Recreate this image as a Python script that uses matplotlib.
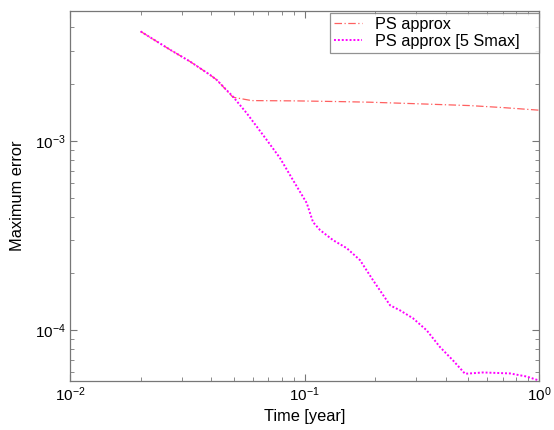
import matplotlib
matplotlib.use("Agg")
import matplotlib.pyplot as plt
from matplotlib.ticker import LogLocator, NullFormatter

plt.rcParams['font.family'] = ['Liberation Sans', 'DejaVu Sans']
plt.rcParams['mathtext.default'] = 'regular'

# Data
t_ps = [0.02, 0.0267, 0.0325, 0.0395, 0.0422, 0.0495, 0.0595, 0.0926, 0.1417,
        0.1903, 0.311, 0.508, 0.702, 1.0]
err_ps = [3.81e-3, 3.05e-3, 2.64e-3, 2.246e-3, 2.113e-3, 1.71e-3, 1.641e-3,
          1.635e-3, 1.621e-3, 1.609e-3, 1.577e-3, 1.544e-3, 1.507e-3, 1.46e-3]

t_5s = [0.02, 0.0267, 0.0325, 0.0395, 0.0422, 0.0495, 0.0567, 0.069, 0.0786,
        0.0893, 0.1022, 0.1087, 0.1165, 0.1323, 0.1514, 0.1725, 0.196, 0.2241,
        0.2316, 0.2554, 0.2902, 0.332, 0.3783, 0.4299, 0.4836, 0.577, 0.752,
        0.886, 1.0]
err_5s = [3.81e-3, 3.05e-3, 2.64e-3, 2.246e-3, 2.113e-3, 1.723e-3, 1.407e-3,
          1.016e-3, 8.15e-4, 6.23e-4, 4.71e-4, 3.735e-4, 3.39e-4, 3.0e-4,
          2.72e-4, 2.35e-4, 1.84e-4, 1.442e-4, 1.357e-4, 1.276e-4, 1.158e-4,
          1.0e-4, 8.156e-5, 6.93e-5, 5.895e-5, 5.99e-5, 5.92e-5, 5.70e-5,
          5.43e-5]

labels = ['PS approx', 'PS approx [5 Smax]']

fig = plt.figure(figsize=(5.54, 4.30), dpi=100)
ax = fig.add_axes([0.1264, 0.114, 0.973 - 0.1264, 0.975 - 0.114])

ax.loglog(t_ps, err_ps, color='#ff6060', lw=0.9, linestyle=(0, (6, 2, 1, 2)),
          label=labels[0])
ax.loglog(t_5s, err_5s, color='#ff00ff', lw=1.4, linestyle=(0, (1, 1)),
          label=labels[1])

ax.set_xlim(1e-2, 1)
ax.set_ylim(5.4e-5, 4.9e-3)

ax.set_xlabel('Time [year]', fontsize=11.8, labelpad=4)
ax.set_ylabel('Maximum error', fontsize=11.8, labelpad=7)

for s in ax.spines.values():
    s.set_color('#777777')
    s.set_linewidth(0.9)
ax.tick_params(which='both', direction='in', top=True, right=True,
               color='#777777', labelsize=11, labelcolor='black')
ax.tick_params(which='major', length=5, width=0.8, pad=3)
ax.tick_params(which='minor', length=3, width=0.6)
ax.xaxis.set_minor_locator(LogLocator(base=10, subs=range(2, 10), numticks=20))
ax.yaxis.set_minor_locator(LogLocator(base=10, subs=range(2, 10), numticks=20))
ax.xaxis.set_minor_formatter(NullFormatter())
ax.yaxis.set_minor_formatter(NullFormatter())

leg = ax.legend(loc='upper left', bbox_to_anchor=(0.554, 0.0, 0.446, 0.994),
                mode='expand', fontsize=11.7, frameon=True, fancybox=False,
                borderaxespad=0.0, handlelength=1.75, handletextpad=0.75,
                labelspacing=0.1, borderpad=0.25)
leg.get_frame().set_edgecolor('#777777')
leg.get_frame().set_linewidth(0.9)

fig.savefig('out.png', dpi=100)
